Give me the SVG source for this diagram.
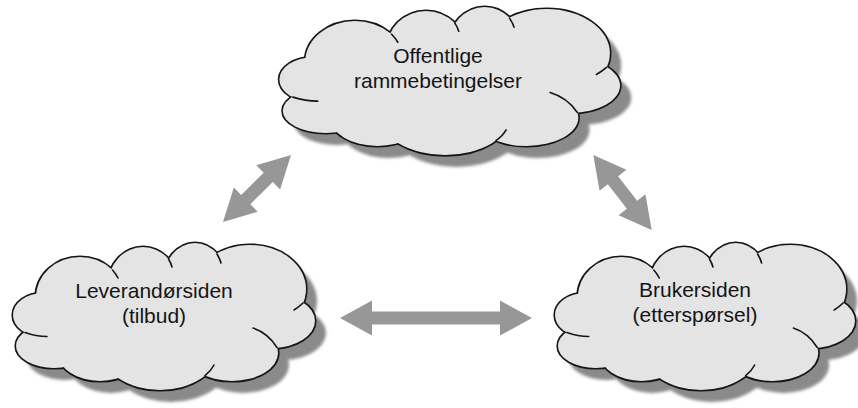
<svg xmlns="http://www.w3.org/2000/svg" xmlns:xlink="http://www.w3.org/1999/xlink" width="858" height="408" viewBox="0 0 858 408">
  <style>
    .cloud-shadow { fill: #8a8a8a; stroke: none; }
    .cloud-line { fill: none; stroke: #151515; stroke-width: 3.2; }
    .cloud-fill { fill: #e4e4e4; stroke: none; }
    .crease { fill: none; stroke: #151515; stroke-width: 1.6; stroke-linecap: round; }
    .label { font-family: "Liberation Sans", Arial, sans-serif; font-size: 21px; fill: #141414; text-anchor: middle; }
    .arrow { fill: #979797; stroke: none; }
  </style>
  <defs>
    <filter id="soft" x="-10%" y="-10%" width="120%" height="120%">
      <feGaussianBlur stdDeviation="1.6"/>
    </filter>
    <!-- cloud built as a union of lobes, drawn in a 305 x 147 box -->
    <g id="cloudShape">
      <ellipse vector-effect="non-scaling-stroke" cx="33" cy="72" rx="30" ry="22"/>
      <ellipse vector-effect="non-scaling-stroke" cx="44" cy="103" rx="38" ry="22"/>
      <ellipse vector-effect="non-scaling-stroke" cx="70" cy="54" rx="44" ry="40"/>
      <ellipse vector-effect="non-scaling-stroke" cx="133" cy="42" rx="35" ry="38"/>
      <ellipse vector-effect="non-scaling-stroke" cx="185" cy="38" rx="32" ry="38"/>
      <ellipse vector-effect="non-scaling-stroke" cx="240" cy="46" rx="56" ry="44"/>
      <ellipse vector-effect="non-scaling-stroke" cx="262" cy="78" rx="43" ry="27"/>
      <ellipse vector-effect="non-scaling-stroke" cx="222" cy="110" rx="46" ry="28"/>
      <ellipse vector-effect="non-scaling-stroke" cx="150" cy="108" rx="58" ry="39"/>
      <ellipse vector-effect="non-scaling-stroke" cx="90" cy="110" rx="42" ry="28"/>
      <ellipse vector-effect="non-scaling-stroke" cx="155" cy="75" rx="100" ry="40"/>
    </g>
    <!-- short inner arcs where lobes meet -->
    <g id="cloudCreases" class="crease">
      <path vector-effect="non-scaling-stroke" d="M15,89.5 Q26,93.5 37,93.5"/>
      <path vector-effect="non-scaling-stroke" d="M102.5,27 Q106,31 108,35"/>
      <path vector-effect="non-scaling-stroke" d="M158.5,16 Q161,20 162,24"/>
      <path vector-effect="non-scaling-stroke" d="M207,11 Q210,16 211,20"/>
      <path vector-effect="non-scaling-stroke" d="M293,60 Q289,64 284,67"/>
      <path vector-effect="non-scaling-stroke" d="M267,104.5 Q258,90 243,85"/>
      <path vector-effect="non-scaling-stroke" d="M195,132.7 Q201,128 204,122"/>
    </g>
  </defs>

  <!-- connectors -->
  <g id="connectors">
    <polygon class="arrow" points="340,318 372,300.5 372,311.5 500,311.5 500,300.5 532,318 500,335.5 500,324.5 372,324.5 372,335.5"/>
    <polygon class="arrow" transform="translate(257,188.5) rotate(-44.6)" points="-47.75,0 -15.75,-17 -15.75,-6.5 15.75,-6.5 15.75,-17 47.75,0 15.75,17 15.75,6.5 -15.75,6.5 -15.75,17"/>
    <polygon class="arrow" transform="translate(622.5,192.5) rotate(52.1)" points="-47.5,0 -15.5,-17 -15.5,-6.5 15.5,-6.5 15.5,-17 47.5,0 15.5,17 15.5,6.5 -15.5,6.5 -15.5,17"/>
  </g>

  <!-- top node -->
  <g id="node-rammebetingelser">
    <g transform="translate(276,7) scale(1.128,1.007)">
      <use xlink:href="#cloudShape" class="cloud-shadow" transform="translate(10,12)" filter="url(#soft)"/>
      <use xlink:href="#cloudShape" class="cloud-line"/>
      <use xlink:href="#cloudShape" class="cloud-fill"/>
      <use xlink:href="#cloudCreases"/>
    </g>
    <text class="label" x="438" y="63">Offentlige</text>
    <text class="label" x="438" y="88">rammebetingelser</text>
  </g>

  <!-- left node -->
  <g id="node-leverandorsiden">
    <g transform="translate(10,243)">
      <use xlink:href="#cloudShape" class="cloud-shadow" transform="translate(11,12)" filter="url(#soft)"/>
      <use xlink:href="#cloudShape" class="cloud-line"/>
      <use xlink:href="#cloudShape" class="cloud-fill"/>
      <use xlink:href="#cloudCreases"/>
    </g>
    <text class="label" x="154" y="298">Leverandørsiden</text>
    <text class="label" x="154" y="323">(tilbud)</text>
  </g>

  <!-- right node -->
  <g id="node-brukersiden">
    <g transform="translate(552,243) scale(0.9934,1)">
      <use xlink:href="#cloudShape" class="cloud-shadow" transform="translate(11,12)" filter="url(#soft)"/>
      <use xlink:href="#cloudShape" class="cloud-line"/>
      <use xlink:href="#cloudShape" class="cloud-fill"/>
      <use xlink:href="#cloudCreases"/>
    </g>
    <text class="label" x="695" y="297">Brukersiden</text>
    <text class="label" x="695" y="322">(etterspørsel)</text>
  </g>
</svg>
